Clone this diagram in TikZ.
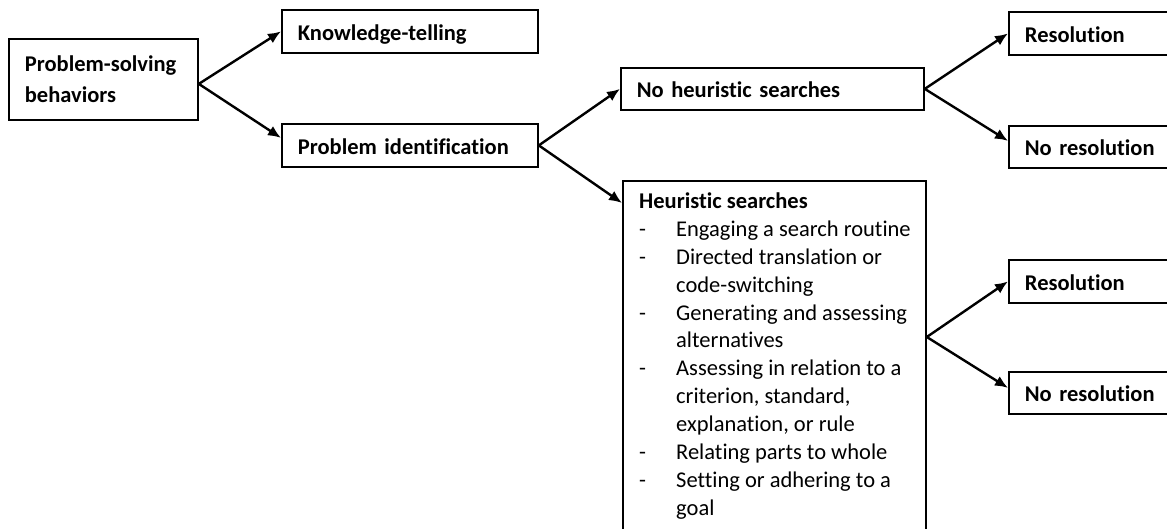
\documentclass[tikz,border=0pt]{standalone}
\usepackage{fontspec}
\setmainfont{Carlito}[Ligatures=NoCommon]
\usetikzlibrary{arrows.meta,calc}
\newcommand{\dashitem}{\makebox[37pt][l]{-}}
\newcommand{\contitem}{\hspace*{37pt}}
\begin{document}
\begin{tikzpicture}[x=1pt,y=-1pt,
  every node/.style={font=\fontsize{22.5pt}{27.9pt}\selectfont},
  box/.style={draw, line width=1.8pt, anchor=north west, inner xsep=16pt,
    inner ysep=0pt, align=left,
    font=\fontsize{22.5pt}{30.7pt}\selectfont\bfseries},
  oneline/.style={text height=20pt, text depth=2.4pt},
  link/.style={line width=2.4pt, -{Latex[length=13pt,width=11pt]}}]
\fill[white] (0,0) rectangle (1167,529);
\clip (0,0) rectangle (1167,529);

% first level
\node[box, minimum width=189pt, minimum height=81pt, text width=157pt]
  (b1) at (8,38) {Problem-solving\\behaviors};
\node[box, oneline, minimum width=256pt, minimum height=43pt, text width=224pt]
  (kt) at (281,9) {Knowledge-telling};
\node[box, oneline, minimum width=256pt, minimum height=43pt, text width=224pt]
  (pi) at (281,123) {Problem identification};

% second level
\node[box, oneline, minimum width=303pt, minimum height=42pt, text width=271pt]
  (nh) at (620,67) {No heuristic searches};
\node[draw, line width=1.8pt, anchor=north west, minimum width=303pt,
  minimum height=360pt, inner sep=0pt] (hs) at (622,180) {};
\node[anchor=base west, inner sep=0pt] (hsl) at ($(hs.north west)+(17,28.5)$)
  {\begin{tabular}[t]{@{}l@{}}
   \textbf{Heuristic searches}\\
   \dashitem Engaging a search routine\\
   \dashitem Directed translation or\\
   \contitem code-switching\\
   \dashitem Generating and assessing\\
   \contitem alternatives\\
   \dashitem Assessing in relation to a\\
   \contitem criterion, standard,\\
   \contitem explanation, or rule\\
   \dashitem Relating parts to whole\\
   \dashitem Setting or adhering to a\\
   \contitem goal
   \end{tabular}};

% outcomes
\node[box, oneline, minimum width=200pt, minimum height=43pt, text width=168pt]
  (rs1) at (1008,11) {Resolution};
\node[box, oneline, minimum width=200pt, minimum height=42pt, text width=168pt]
  (nr1) at (1008,125) {No resolution};
\node[box, oneline, minimum width=200pt, minimum height=43pt, text width=168pt]
  (rs2) at (1008,259) {Resolution};
\node[box, oneline, minimum width=200pt, minimum height=42pt, text width=168pt]
  (nr2) at (1008,371) {No resolution};

% fork points
\coordinate (f1) at ($(b1.east)+(0,4.5)$);
\coordinate (f3) at ($(hs.north east)+(0,157)$);

\draw[link] (f1) -- (kt.west);
\draw[link] (f1) -- ($(pi.west)+(0,-7.5)$);
\draw[link] (pi.east) -- (nh.west);
\draw[link] (pi.east) -- ($(hs.north west)+(0,23)$);
\draw[link] (nh.east) -- (rs1.west);
\draw[link] (nh.east) -- ($(nr1.west)+(0,-6)$);
\draw[link] (f3) -- (rs2.west);
\draw[link] (f3) -- ($(nr2.west)+(0,-5)$);
\end{tikzpicture}
\end{document}
